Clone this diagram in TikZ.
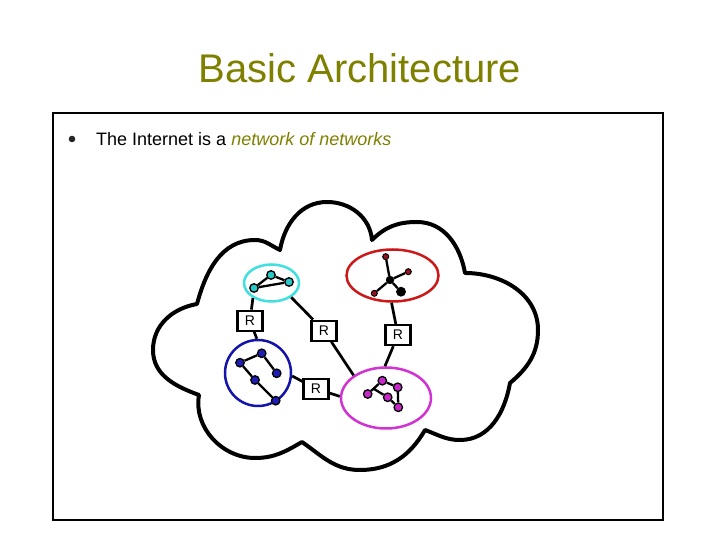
\documentclass[tikz,border=0pt]{standalone}
\usepackage{fontspec}
\setmainfont{Liberation Sans}
\usetikzlibrary{shapes.geometric,calc}
\definecolor{olivet}{RGB}{128,128,0}
\definecolor{cyanring}{RGB}{64,224,224}
\definecolor{redring}{RGB}{204,24,24}
\definecolor{bluering}{RGB}{20,20,170}
\definecolor{magring}{RGB}{210,50,210}
\definecolor{cyandot}{RGB}{40,200,200}
\definecolor{bluedot}{RGB}{30,30,180}
\definecolor{reddot}{RGB}{150,20,30}
\definecolor{magdot}{RGB}{200,40,200}
\tikzset{
  cloudline/.style={line width=4pt, line join=round, line cap=round},
  ring/.style={ellipse, line width=2.5pt, inner sep=0},
  dotnode/.style={circle, draw=black, line width=1.3pt, inner sep=0, minimum size=8.5pt},
  smalldot/.style={circle, draw=black, line width=1pt, inner sep=0, minimum size=6pt},
  link/.style={line width=2.3pt},
  conn/.style={line width=2.7pt},
  router/.style={draw, line width=2.2pt, fill=white, minimum width=25pt, minimum height=20pt, inner sep=0, font=\fontsize{14}{14}\selectfont}
}
\begin{document}
\begin{tikzpicture}[x=1pt,y=1pt]
\useasboundingbox (0,0) rectangle (720,540);
\fill[white] (0,0) rectangle (720,540);
% title
\node[anchor=base, inner sep=0, text=olivet, font=\fontsize{40}{48}\selectfont] (title) at (360,457) {Basic Architecture};
% frame
\draw[line width=1.2pt] (53,20) rectangle (663,427);
% bullet
\fill[black!85] (72,401) circle (3.3);
\node[anchor=base west, inner sep=0, font=\fontsize{18}{22}\selectfont] (bullettext) at (96,394) {The Internet is a \textcolor{olivet}{\itshape network of networks}};
% cloud
\draw[cloudline] (197,236) to[out=75,in=180] (255,300) to[out=0,in=155] (280,290)
 to[out=80,in=180] (327,338) to[out=0,in=95] (372,300)
 to[out=45,in=180] (417,318) to[out=0,in=100] (465,267)
 to[out=0,in=90] (538,210) to[out=-90,in=40] (510,157)
 to[out=-100,in=0] (460,100) to[out=180,in=-20] (425,110)
 to[out=-120,in=0] (360,70) to[out=180,in=-35] (302,98)
 to[out=-150,in=0] (255,82) to[out=180,in=-100] (199,145)
 to[out=160,in=-90] (153,190) to[out=90,in=190] (197,236) -- cycle;
% network rings
\node[ring, draw=cyanring, minimum width=55pt, minimum height=37pt] (cy) at (271.5,257) {};
\node[ring, draw=redring, minimum width=92pt, minimum height=52pt] (rd) at (392.5,264.5) {};
\node[ring, draw=bluering, minimum width=66pt, minimum height=66pt] (bl) at (258,167) {};
\node[ring, draw=magring, minimum width=90pt, minimum height=61pt] (mg) at (386,142) {};
% routers
\node[router] (R1) at (250,219.3) {R};
\node[router] (R2) at (324,209.3) {R};
\node[router] (R3) at (398,205) {R};
\node[router] (R4) at (316,151.3) {R};
% connectors
\draw[conn] (cy.219) -- (R1);
\draw[conn] (R1) -- (bl.92);
\draw[conn] (cy.-36) -- (R2);
\draw[conn] (R2) -- (mg.145);
\draw[conn] (rd.-92) -- (R3);
\draw[conn] (R3) -- (mg.92);
\draw[conn] (bl.-5) -- (R4);
\draw[conn] (R4) -- (mg.178);
% cyan network
\node[dotnode, fill=cyandot] (c1) at (254,252) {};
\node[dotnode, fill=cyandot] (c2) at (271,265) {};
\node[dotnode, fill=cyandot] (c3) at (289,258) {};
\draw[link] (c1) -- (c2) (c2) -- (c3) (c3) -- (c1);
% red star network
\node[dotnode, fill=black, minimum size=7pt] (k0) at (390,260) {};
\node[smalldot, fill=reddot] (k1) at (385.7,283.3) {};
\node[smalldot, fill=reddot] (k2) at (408.3,268.3) {};
\node[smalldot, fill=reddot] (k3) at (374.3,246.7) {};
\node[dotnode, fill=black] (k4) at (401,248.3) {};
\draw[link] (k0) -- (k1) (k0) -- (k2) (k0) -- (k3) (k0) -- (k4);
% blue network
\node[dotnode, fill=bluedot] (b1) at (240,177.3) {};
\node[dotnode, fill=bluedot] (b2) at (261.7,186.7) {};
\node[dotnode, fill=bluedot] (b3) at (276.7,166.7) {};
\node[dotnode, fill=bluedot] (b4) at (255,160) {};
\node[dotnode, fill=bluedot] (b5) at (275.7,139.3) {};
\draw[link] (b1) -- (b2) (b2) -- (b3) (b1) -- (b4) (b4) -- (b5);
% magenta network
\node[dotnode, fill=magdot] (m1) at (367.7,146) {};
\node[dotnode, fill=magdot] (m2) at (382.3,159.3) {};
\node[dotnode, fill=magdot] (m3) at (397.7,152.7) {};
\node[dotnode, fill=magdot] (m4) at (387.7,142.7) {};
\node[dotnode, fill=magdot] (m5) at (398.3,132.7) {};
\coordinate (mj) at ($(m1)!0.4!(m2)$);
\draw[link] (m1) -- (m2) (m2) -- (m3) (m3) -- (m5) (m5) -- (m4) (m4) -- (mj);
\end{tikzpicture}
\end{document}
